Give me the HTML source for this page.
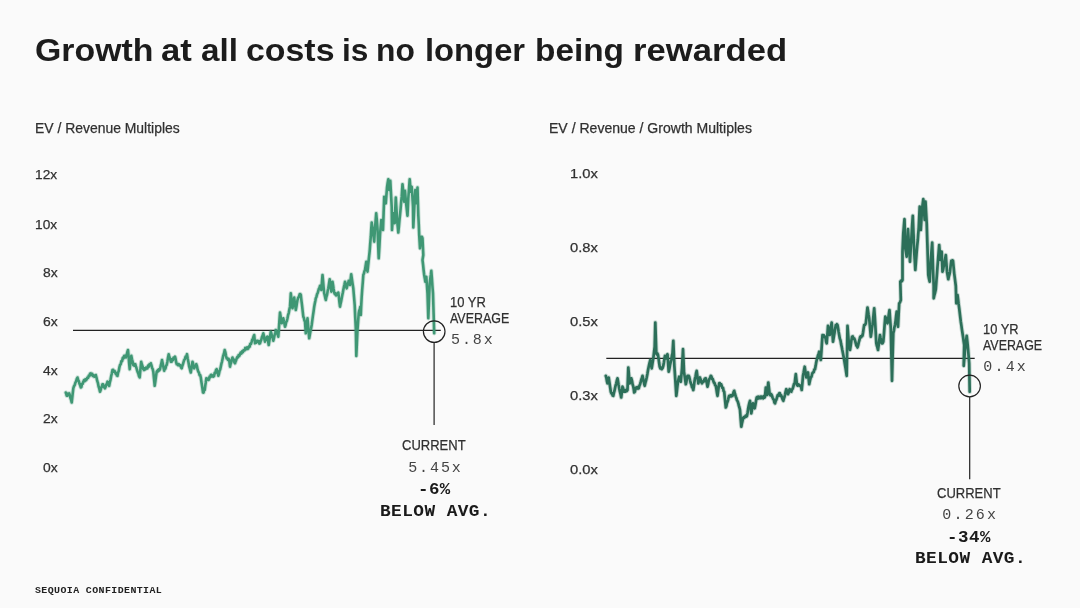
<!DOCTYPE html>
<html lang="en"><head><meta charset="utf-8"><title>Growth at all costs is no longer being rewarded</title>
<style>
html,body{margin:0;padding:0}
body{width:1080px;height:608px;background:#fafafa;position:relative;overflow:hidden;font-family:'Liberation Sans', sans-serif;color:#303030}
svg{position:absolute;left:0;top:0}
.t{position:absolute;transform-origin:0 0;white-space:nowrap;line-height:1;margin:0;padding:0}

</style></head><body>
<svg width="1080" height="608" viewBox="0 0 1080 608" fill="none">
<g stroke="#222" stroke-width="1.2">
<line x1="73" y1="330.3" x2="440.8" y2="330.3"/>
<line x1="606.3" y1="358.3" x2="974.7" y2="358.3"/>
</g>
<g stroke="#3f9774" stroke-linejoin="round" stroke-linecap="round">
<polyline points="65.8,392.5 66.2,393.8 66.7,395.8 67.3,395.8 68.0,393.7 68.6,394.5 69.2,393.3 69.8,395.2 70.5,398.2 71.1,399.9 71.7,402.5 72.5,395.4 73.3,388.3 74.0,386.2 74.7,385.1 75.4,382.6 76.1,381.4 76.8,378.9 77.5,377.5 78.2,380.0 78.8,381.2 79.5,383.8 80.1,385.1 80.8,387.5 81.4,387.0 82.0,383.8 82.7,383.8 83.3,381.7 84.0,380.2 84.7,381.2 85.3,379.3 86.0,380.3 86.7,379.2 87.4,377.6 88.1,377.8 88.8,375.6 89.4,376.2 90.1,373.7 90.8,373.3 91.5,374.8 92.2,373.8 92.8,376.0 93.5,375.2 94.2,376.7 95.0,376.4 95.8,375.0 96.5,377.5 97.2,380.9 97.9,382.9 98.6,386.5 99.3,388.6 100.0,391.7 100.6,390.2 101.2,387.6 101.9,386.4 102.5,384.2 103.1,384.3 103.8,387.1 104.4,386.7 105.0,388.3 105.6,387.0 106.2,384.6 106.9,383.8 107.5,381.7 108.1,382.2 108.6,385.1 109.2,385.8 109.9,382.1 110.5,379.8 111.2,376.0 111.8,373.6 112.5,370.0 113.1,369.8 113.8,371.6 114.4,370.8 115.0,371.7 115.6,373.6 116.2,372.9 116.9,375.6 117.5,375.8 118.1,372.6 118.8,370.7 119.4,367.3 120.0,365.0 120.7,364.3 121.4,361.1 122.1,361.1 122.8,357.9 123.5,358.3 124.2,355.8 125.0,355.9 125.8,357.5 126.5,355.4 127.3,352.2 128.0,350.0 128.6,356.4 129.1,362.8 129.7,369.2 130.2,364.7 130.8,360.3 131.3,355.8 132.0,359.2 132.6,361.6 133.3,365.0 134.0,365.6 134.6,364.0 135.3,364.2 135.9,366.5 136.4,367.8 137.0,370.0 137.7,372.2 138.3,373.5 139.0,376.1 139.7,377.5 140.4,369.6 141.2,361.7 141.9,364.5 142.6,366.4 143.3,369.2 144.0,370.0 144.7,368.3 145.3,369.4 146.0,367.7 146.7,368.3 147.4,368.4 148.1,365.7 148.8,366.7 149.4,364.3 150.1,364.8 150.8,363.3 151.4,365.1 152.1,368.0 152.7,369.1 153.3,371.7 154.0,378.8 154.7,385.8 155.4,381.1 156.0,376.4 156.7,371.7 157.4,370.6 158.0,371.4 158.7,369.4 159.3,370.3 160.0,369.2 160.7,365.9 161.3,363.4 162.0,360.0 162.7,363.3 163.5,367.6 164.2,370.8 164.8,368.4 165.4,368.7 166.1,365.7 166.7,365.0 167.4,361.4 168.0,357.8 168.7,354.2 169.4,357.0 170.1,358.7 170.8,361.7 171.5,361.8 172.2,359.1 172.9,360.1 173.6,357.7 174.3,358.2 175.0,356.7 175.6,358.9 176.1,362.1 176.7,364.2 177.4,363.8 178.0,365.1 178.7,364.1 179.3,365.4 180.0,365.0 180.6,365.4 181.1,367.7 181.7,368.3 182.3,366.0 182.9,364.4 183.6,361.8 184.2,360.0 184.9,359.2 185.6,356.6 186.3,356.6 187.0,354.2 187.7,358.4 188.5,362.5 189.2,366.7 189.7,368.3 190.3,370.9 190.8,372.5 191.4,368.9 191.9,365.3 192.5,361.7 193.1,363.4 193.6,366.6 194.2,368.3 194.9,366.2 195.6,366.3 196.3,364.2 197.0,366.4 197.6,369.5 198.3,371.7 198.9,372.5 199.6,375.2 200.2,375.1 200.8,377.5 201.5,382.5 202.3,387.5 203.0,392.5 203.6,392.6 204.1,390.1 204.7,390.0 205.2,386.1 205.8,382.2 206.3,378.3 207.0,379.4 207.6,378.7 208.3,380.0 208.9,379.7 209.6,376.6 210.2,377.1 210.8,375.0 211.4,374.8 212.1,376.5 212.7,375.7 213.3,376.7 214.0,376.1 214.7,372.9 215.3,373.1 216.0,370.0 216.7,369.2 217.2,371.7 217.8,373.1 218.3,375.8 218.9,374.0 219.6,370.8 220.2,369.4 220.8,366.7 221.4,363.7 221.9,362.1 222.5,359.2 223.2,355.8 224.0,353.4 224.7,350.0 225.4,352.4 226.0,355.8 226.7,358.3 227.3,358.2 227.9,359.8 228.6,358.9 229.2,360.0 229.6,363.4 230.0,366.7 230.6,363.9 231.2,362.5 231.9,359.3 232.5,357.5 233.1,359.9 233.8,359.4 234.4,362.5 235.0,363.3 235.6,361.3 236.1,360.3 236.7,358.3 237.4,356.9 238.0,357.3 238.7,355.0 239.3,356.0 240.0,354.2 240.7,352.6 241.4,353.5 242.1,351.3 242.8,352.3 243.5,350.2 244.2,350.0 244.7,350.3 245.3,347.9 245.8,348.3 246.4,349.2 247.1,347.4 247.7,349.0 248.3,348.3 249.0,346.4 249.7,346.6 250.3,343.7 251.0,343.9 251.7,341.7 252.3,339.5 252.9,338.7 253.6,336.3 254.2,335.0 254.6,339.1 255.0,343.3 255.6,341.8 256.2,342.6 256.9,340.9 257.5,340.8 258.1,342.0 258.8,341.1 259.4,343.6 260.0,343.3 260.7,341.0 261.3,339.8 262.0,336.8 262.6,335.7 263.3,333.3 263.9,335.8 264.4,339.3 265.0,341.7 265.6,339.9 266.2,339.7 266.9,337.0 267.5,336.7 268.1,340.9 268.7,345.0 269.4,340.6 270.1,336.1 270.8,331.7 271.4,333.6 272.1,336.7 272.7,338.1 273.3,340.8 273.9,338.4 274.6,335.1 275.2,333.0 275.8,330.0 276.4,331.4 277.1,333.7 277.7,334.7 278.3,336.7 278.9,328.6 279.4,320.6 280.0,312.5 280.6,316.1 281.1,319.7 281.7,323.3 282.2,322.0 282.8,319.6 283.3,318.3 283.9,321.6 284.4,323.5 285.0,326.7 285.6,325.1 286.2,322.1 286.9,320.8 287.5,318.3 288.1,315.0 288.8,312.8 289.4,309.2 290.0,306.7 290.4,300.0 290.8,293.3 291.4,298.3 291.9,303.3 292.5,308.3 293.1,304.7 293.6,301.1 294.2,297.5 294.7,301.7 295.3,305.8 295.8,310.0 296.4,306.7 296.9,303.3 297.5,300.0 298.2,297.7 299.0,296.6 299.7,294.2 300.2,294.0 300.8,295.0 301.4,300.4 302.1,305.9 302.7,311.3 303.3,316.7 303.9,317.9 304.4,320.4 305.0,321.7 305.4,327.5 305.8,333.3 306.4,328.3 306.9,323.3 307.5,318.3 308.1,325.0 308.6,331.6 309.2,338.3 309.8,335.0 310.4,331.6 311.1,328.3 311.7,325.0 312.3,320.4 312.9,315.9 313.6,311.3 314.2,306.7 314.7,303.9 315.3,301.1 315.8,298.3 316.4,296.9 317.1,294.1 317.7,293.0 318.3,290.8 318.9,288.7 319.4,288.0 320.0,285.8 320.6,287.4 321.3,290.0 321.9,282.5 322.5,275.0 323.1,281.1 323.6,287.2 324.2,293.3 324.7,295.3 325.3,298.1 325.8,300.0 326.4,296.8 327.1,294.6 327.7,290.8 328.3,288.3 329.0,283.8 329.7,279.2 330.2,283.4 330.8,287.5 331.3,291.7 331.9,286.7 332.5,281.7 333.1,285.3 333.6,288.9 334.2,292.5 334.8,294.1 335.4,293.1 336.1,295.4 336.7,295.0 337.2,293.5 337.8,294.1 338.3,292.5 338.9,297.2 339.4,302.0 340.0,306.7 340.6,303.6 341.1,301.5 341.7,298.3 342.2,295.5 342.8,292.8 343.3,290.0 343.9,286.9 344.4,284.8 345.0,281.7 345.6,283.5 346.1,286.4 346.7,288.3 347.4,285.4 348.0,283.7 348.7,280.8 349.4,282.6 350.0,285.0 350.6,279.6 351.2,274.2 351.9,278.9 352.6,283.6 353.3,288.3 354.0,296.6 354.7,305.0 355.2,316.6 355.8,328.3 356.3,356.0 356.9,343.0 357.5,330.0 358.1,321.6 358.7,313.3 359.2,310.8 359.8,309.2 360.3,306.7 360.8,315.0 361.2,305.9 361.7,296.7 362.2,289.5 362.8,282.2 363.3,275.0 363.9,273.6 364.4,271.3 365.0,270.0 365.6,265.9 366.3,261.7 366.9,266.7 367.5,271.7 368.1,265.9 368.7,260.0 369.2,255.4 369.7,250.8 370.2,243.8 370.8,236.7 371.2,229.6 371.7,222.5 372.4,227.1 373.0,231.7 373.6,236.7 374.2,241.7 374.6,235.0 375.0,228.3 375.6,220.8 376.2,213.3 376.9,220.8 377.5,228.3 378.1,243.3 378.7,258.3 379.4,246.7 380.0,235.0 380.6,227.5 381.3,220.0 381.9,223.3 382.4,226.7 383.0,230.0 383.6,213.3 384.2,196.7 384.7,198.6 385.3,201.6 385.8,203.3 386.4,195.4 387.0,187.5 387.6,183.3 388.3,179.2 388.8,184.6 389.2,190.0 389.8,185.4 390.3,180.8 391.0,193.8 391.7,206.7 392.0,230.0 392.6,221.7 393.3,213.3 394.0,218.3 394.7,223.3 395.2,210.4 395.8,197.5 396.4,207.9 397.0,218.3 397.6,225.4 398.3,232.5 398.9,226.7 399.4,220.8 400.0,215.0 400.6,208.9 401.1,202.8 401.7,196.7 402.1,190.4 402.5,184.2 403.1,190.0 403.6,195.9 404.2,201.7 404.6,196.2 405.0,190.8 405.6,197.9 406.3,205.0 406.9,210.4 407.5,215.8 407.9,207.1 408.3,198.3 409.0,188.8 409.7,179.2 410.2,185.4 410.8,191.7 411.2,189.2 411.7,186.7 412.4,196.7 413.0,206.7 413.3,227.5 414.0,213.8 414.7,200.0 415.3,190.0 415.8,196.7 416.3,203.3 416.9,195.4 417.5,187.5 417.9,201.2 418.3,215.0 418.8,225.0 419.2,235.0 419.6,241.7 420.0,248.3 420.6,242.5 421.3,236.7 421.9,236.8 422.5,238.3 422.9,246.7 423.3,255.0 422.9,257.5 422.5,260.0 423.1,265.0 423.6,270.0 424.2,275.0 424.8,278.4 425.3,281.7 425.8,279.2 426.3,276.7 426.9,285.0 427.5,293.3 427.9,305.8 428.3,318.3 429.0,300.8 429.7,283.3 430.2,279.1 430.8,275.0 431.3,270.8 431.9,278.3 432.4,285.8 433.0,293.3 433.6,313.3 434.2,333.3" stroke-width="4.4" opacity="0.25"/>
<polyline points="65.8,392.5 66.2,393.8 66.7,395.8 67.3,395.8 68.0,393.7 68.6,394.5 69.2,393.3 69.8,395.2 70.5,398.2 71.1,399.9 71.7,402.5 72.5,395.4 73.3,388.3 74.0,386.2 74.7,385.1 75.4,382.6 76.1,381.4 76.8,378.9 77.5,377.5 78.2,380.0 78.8,381.2 79.5,383.8 80.1,385.1 80.8,387.5 81.4,387.0 82.0,383.8 82.7,383.8 83.3,381.7 84.0,380.2 84.7,381.2 85.3,379.3 86.0,380.3 86.7,379.2 87.4,377.6 88.1,377.8 88.8,375.6 89.4,376.2 90.1,373.7 90.8,373.3 91.5,374.8 92.2,373.8 92.8,376.0 93.5,375.2 94.2,376.7 95.0,376.4 95.8,375.0 96.5,377.5 97.2,380.9 97.9,382.9 98.6,386.5 99.3,388.6 100.0,391.7 100.6,390.2 101.2,387.6 101.9,386.4 102.5,384.2 103.1,384.3 103.8,387.1 104.4,386.7 105.0,388.3 105.6,387.0 106.2,384.6 106.9,383.8 107.5,381.7 108.1,382.2 108.6,385.1 109.2,385.8 109.9,382.1 110.5,379.8 111.2,376.0 111.8,373.6 112.5,370.0 113.1,369.8 113.8,371.6 114.4,370.8 115.0,371.7 115.6,373.6 116.2,372.9 116.9,375.6 117.5,375.8 118.1,372.6 118.8,370.7 119.4,367.3 120.0,365.0 120.7,364.3 121.4,361.1 122.1,361.1 122.8,357.9 123.5,358.3 124.2,355.8 125.0,355.9 125.8,357.5 126.5,355.4 127.3,352.2 128.0,350.0 128.6,356.4 129.1,362.8 129.7,369.2 130.2,364.7 130.8,360.3 131.3,355.8 132.0,359.2 132.6,361.6 133.3,365.0 134.0,365.6 134.6,364.0 135.3,364.2 135.9,366.5 136.4,367.8 137.0,370.0 137.7,372.2 138.3,373.5 139.0,376.1 139.7,377.5 140.4,369.6 141.2,361.7 141.9,364.5 142.6,366.4 143.3,369.2 144.0,370.0 144.7,368.3 145.3,369.4 146.0,367.7 146.7,368.3 147.4,368.4 148.1,365.7 148.8,366.7 149.4,364.3 150.1,364.8 150.8,363.3 151.4,365.1 152.1,368.0 152.7,369.1 153.3,371.7 154.0,378.8 154.7,385.8 155.4,381.1 156.0,376.4 156.7,371.7 157.4,370.6 158.0,371.4 158.7,369.4 159.3,370.3 160.0,369.2 160.7,365.9 161.3,363.4 162.0,360.0 162.7,363.3 163.5,367.6 164.2,370.8 164.8,368.4 165.4,368.7 166.1,365.7 166.7,365.0 167.4,361.4 168.0,357.8 168.7,354.2 169.4,357.0 170.1,358.7 170.8,361.7 171.5,361.8 172.2,359.1 172.9,360.1 173.6,357.7 174.3,358.2 175.0,356.7 175.6,358.9 176.1,362.1 176.7,364.2 177.4,363.8 178.0,365.1 178.7,364.1 179.3,365.4 180.0,365.0 180.6,365.4 181.1,367.7 181.7,368.3 182.3,366.0 182.9,364.4 183.6,361.8 184.2,360.0 184.9,359.2 185.6,356.6 186.3,356.6 187.0,354.2 187.7,358.4 188.5,362.5 189.2,366.7 189.7,368.3 190.3,370.9 190.8,372.5 191.4,368.9 191.9,365.3 192.5,361.7 193.1,363.4 193.6,366.6 194.2,368.3 194.9,366.2 195.6,366.3 196.3,364.2 197.0,366.4 197.6,369.5 198.3,371.7 198.9,372.5 199.6,375.2 200.2,375.1 200.8,377.5 201.5,382.5 202.3,387.5 203.0,392.5 203.6,392.6 204.1,390.1 204.7,390.0 205.2,386.1 205.8,382.2 206.3,378.3 207.0,379.4 207.6,378.7 208.3,380.0 208.9,379.7 209.6,376.6 210.2,377.1 210.8,375.0 211.4,374.8 212.1,376.5 212.7,375.7 213.3,376.7 214.0,376.1 214.7,372.9 215.3,373.1 216.0,370.0 216.7,369.2 217.2,371.7 217.8,373.1 218.3,375.8 218.9,374.0 219.6,370.8 220.2,369.4 220.8,366.7 221.4,363.7 221.9,362.1 222.5,359.2 223.2,355.8 224.0,353.4 224.7,350.0 225.4,352.4 226.0,355.8 226.7,358.3 227.3,358.2 227.9,359.8 228.6,358.9 229.2,360.0 229.6,363.4 230.0,366.7 230.6,363.9 231.2,362.5 231.9,359.3 232.5,357.5 233.1,359.9 233.8,359.4 234.4,362.5 235.0,363.3 235.6,361.3 236.1,360.3 236.7,358.3 237.4,356.9 238.0,357.3 238.7,355.0 239.3,356.0 240.0,354.2 240.7,352.6 241.4,353.5 242.1,351.3 242.8,352.3 243.5,350.2 244.2,350.0 244.7,350.3 245.3,347.9 245.8,348.3 246.4,349.2 247.1,347.4 247.7,349.0 248.3,348.3 249.0,346.4 249.7,346.6 250.3,343.7 251.0,343.9 251.7,341.7 252.3,339.5 252.9,338.7 253.6,336.3 254.2,335.0 254.6,339.1 255.0,343.3 255.6,341.8 256.2,342.6 256.9,340.9 257.5,340.8 258.1,342.0 258.8,341.1 259.4,343.6 260.0,343.3 260.7,341.0 261.3,339.8 262.0,336.8 262.6,335.7 263.3,333.3 263.9,335.8 264.4,339.3 265.0,341.7 265.6,339.9 266.2,339.7 266.9,337.0 267.5,336.7 268.1,340.9 268.7,345.0 269.4,340.6 270.1,336.1 270.8,331.7 271.4,333.6 272.1,336.7 272.7,338.1 273.3,340.8 273.9,338.4 274.6,335.1 275.2,333.0 275.8,330.0 276.4,331.4 277.1,333.7 277.7,334.7 278.3,336.7 278.9,328.6 279.4,320.6 280.0,312.5 280.6,316.1 281.1,319.7 281.7,323.3 282.2,322.0 282.8,319.6 283.3,318.3 283.9,321.6 284.4,323.5 285.0,326.7 285.6,325.1 286.2,322.1 286.9,320.8 287.5,318.3 288.1,315.0 288.8,312.8 289.4,309.2 290.0,306.7 290.4,300.0 290.8,293.3 291.4,298.3 291.9,303.3 292.5,308.3 293.1,304.7 293.6,301.1 294.2,297.5 294.7,301.7 295.3,305.8 295.8,310.0 296.4,306.7 296.9,303.3 297.5,300.0 298.2,297.7 299.0,296.6 299.7,294.2 300.2,294.0 300.8,295.0 301.4,300.4 302.1,305.9 302.7,311.3 303.3,316.7 303.9,317.9 304.4,320.4 305.0,321.7 305.4,327.5 305.8,333.3 306.4,328.3 306.9,323.3 307.5,318.3 308.1,325.0 308.6,331.6 309.2,338.3 309.8,335.0 310.4,331.6 311.1,328.3 311.7,325.0 312.3,320.4 312.9,315.9 313.6,311.3 314.2,306.7 314.7,303.9 315.3,301.1 315.8,298.3 316.4,296.9 317.1,294.1 317.7,293.0 318.3,290.8 318.9,288.7 319.4,288.0 320.0,285.8 320.6,287.4 321.3,290.0 321.9,282.5 322.5,275.0 323.1,281.1 323.6,287.2 324.2,293.3 324.7,295.3 325.3,298.1 325.8,300.0 326.4,296.8 327.1,294.6 327.7,290.8 328.3,288.3 329.0,283.8 329.7,279.2 330.2,283.4 330.8,287.5 331.3,291.7 331.9,286.7 332.5,281.7 333.1,285.3 333.6,288.9 334.2,292.5 334.8,294.1 335.4,293.1 336.1,295.4 336.7,295.0 337.2,293.5 337.8,294.1 338.3,292.5 338.9,297.2 339.4,302.0 340.0,306.7 340.6,303.6 341.1,301.5 341.7,298.3 342.2,295.5 342.8,292.8 343.3,290.0 343.9,286.9 344.4,284.8 345.0,281.7 345.6,283.5 346.1,286.4 346.7,288.3 347.4,285.4 348.0,283.7 348.7,280.8 349.4,282.6 350.0,285.0 350.6,279.6 351.2,274.2 351.9,278.9 352.6,283.6 353.3,288.3 354.0,296.6 354.7,305.0 355.2,316.6 355.8,328.3 356.3,356.0 356.9,343.0 357.5,330.0 358.1,321.6 358.7,313.3 359.2,310.8 359.8,309.2 360.3,306.7 360.8,315.0 361.2,305.9 361.7,296.7 362.2,289.5 362.8,282.2 363.3,275.0 363.9,273.6 364.4,271.3 365.0,270.0 365.6,265.9 366.3,261.7 366.9,266.7 367.5,271.7 368.1,265.9 368.7,260.0 369.2,255.4 369.7,250.8 370.2,243.8 370.8,236.7 371.2,229.6 371.7,222.5 372.4,227.1 373.0,231.7 373.6,236.7 374.2,241.7 374.6,235.0 375.0,228.3 375.6,220.8 376.2,213.3 376.9,220.8 377.5,228.3 378.1,243.3 378.7,258.3 379.4,246.7 380.0,235.0 380.6,227.5 381.3,220.0 381.9,223.3 382.4,226.7 383.0,230.0 383.6,213.3 384.2,196.7 384.7,198.6 385.3,201.6 385.8,203.3 386.4,195.4 387.0,187.5 387.6,183.3 388.3,179.2 388.8,184.6 389.2,190.0 389.8,185.4 390.3,180.8 391.0,193.8 391.7,206.7 392.0,230.0 392.6,221.7 393.3,213.3 394.0,218.3 394.7,223.3 395.2,210.4 395.8,197.5 396.4,207.9 397.0,218.3 397.6,225.4 398.3,232.5 398.9,226.7 399.4,220.8 400.0,215.0 400.6,208.9 401.1,202.8 401.7,196.7 402.1,190.4 402.5,184.2 403.1,190.0 403.6,195.9 404.2,201.7 404.6,196.2 405.0,190.8 405.6,197.9 406.3,205.0 406.9,210.4 407.5,215.8 407.9,207.1 408.3,198.3 409.0,188.8 409.7,179.2 410.2,185.4 410.8,191.7 411.2,189.2 411.7,186.7 412.4,196.7 413.0,206.7 413.3,227.5 414.0,213.8 414.7,200.0 415.3,190.0 415.8,196.7 416.3,203.3 416.9,195.4 417.5,187.5 417.9,201.2 418.3,215.0 418.8,225.0 419.2,235.0 419.6,241.7 420.0,248.3 420.6,242.5 421.3,236.7 421.9,236.8 422.5,238.3 422.9,246.7 423.3,255.0 422.9,257.5 422.5,260.0 423.1,265.0 423.6,270.0 424.2,275.0 424.8,278.4 425.3,281.7 425.8,279.2 426.3,276.7 426.9,285.0 427.5,293.3 427.9,305.8 428.3,318.3 429.0,300.8 429.7,283.3 430.2,279.1 430.8,275.0 431.3,270.8 431.9,278.3 432.4,285.8 433.0,293.3 433.6,313.3 434.2,333.3" stroke-width="2.6"/>
</g>
<g stroke="#2c6f59" stroke-linejoin="round" stroke-linecap="round">
<polyline points="605.8,375.8 606.4,378.0 606.9,381.1 607.5,383.3 608.1,380.0 608.7,377.5 609.4,382.2 610.1,387.0 610.8,391.7 611.4,393.4 612.0,393.2 612.7,395.5 613.3,395.8 613.9,393.0 614.4,391.2 615.0,388.3 615.6,385.5 616.2,383.6 616.9,380.4 617.5,378.3 618.1,381.6 618.6,385.0 619.2,388.3 619.9,391.7 620.5,394.0 621.2,397.5 621.9,392.1 622.5,386.7 623.1,388.0 623.6,390.4 624.2,391.7 624.9,390.4 625.5,391.5 626.2,389.8 626.8,391.0 627.5,390.0 628.3,367.5 629.0,375.4 629.7,383.3 630.5,381.1 631.3,378.3 632.0,380.8 632.6,384.4 633.3,386.7 633.8,389.6 634.2,392.5 634.9,391.6 635.6,388.3 636.3,387.5 636.9,388.4 637.5,387.1 638.1,388.6 638.7,388.3 639.4,385.8 640.1,384.2 640.8,381.7 641.4,379.3 641.9,378.1 642.5,375.8 643.2,378.8 644.0,382.9 644.7,385.8 645.4,382.7 646.0,380.6 646.7,377.5 647.4,373.9 648.0,370.3 648.7,366.7 649.5,363.0 650.3,360.0 651.0,364.1 651.7,368.3 652.5,363.3 653.3,358.3 654.0,352.5 654.7,346.7 655.3,322.5 655.8,337.9 656.3,353.3 656.9,354.5 657.4,353.4 658.0,355.0 658.6,358.9 659.1,362.8 659.7,366.7 660.4,368.4 661.0,367.8 661.7,369.2 662.5,368.2 663.3,365.8 663.9,362.5 664.4,359.1 665.0,355.8 665.6,356.2 666.3,358.3 666.9,356.6 667.5,354.2 668.1,362.9 668.7,371.7 669.4,368.7 670.1,364.6 670.8,361.7 671.4,359.3 671.9,355.7 672.5,353.3 673.3,340.8 673.8,352.9 674.3,365.0 674.8,372.5 675.3,380.0 675.8,387.9 676.3,395.8 676.9,391.1 677.4,386.4 678.0,381.7 678.6,378.9 679.2,376.7 680.0,379.6 680.8,381.7 681.4,375.0 682.0,368.3 682.5,358.8 683.0,349.2 683.5,360.4 684.0,371.7 684.6,375.9 685.2,380.0 685.8,384.2 686.4,381.8 686.9,378.3 687.5,375.8 688.1,376.8 688.6,375.8 689.2,376.7 690.0,380.3 690.8,383.3 691.4,384.7 692.0,387.1 692.7,388.0 693.3,390.0 693.9,386.1 694.4,382.2 695.0,378.3 695.6,376.3 696.1,373.0 696.7,370.8 697.5,377.1 698.3,383.3 698.9,381.0 699.4,379.9 700.0,377.5 700.0,378.3 700.7,379.5 701.3,382.1 702.0,383.3 702.7,381.6 703.5,381.8 704.2,380.0 705.0,378.5 705.8,378.3 706.4,381.6 706.9,383.4 707.5,386.7 708.1,384.5 708.6,381.4 709.2,379.2 710.0,378.1 710.8,375.8 711.4,376.4 712.0,379.0 712.7,378.8 713.3,380.8 713.9,382.7 714.5,382.8 715.2,385.3 715.8,385.8 716.4,389.1 716.9,392.5 717.5,395.8 718.1,391.6 718.6,387.5 719.2,383.3 719.8,383.2 720.5,385.4 721.1,384.3 721.7,385.8 722.3,387.8 723.0,387.8 723.6,391.1 724.2,391.7 725.0,399.6 725.8,407.5 726.4,406.0 726.9,403.3 727.5,401.7 728.1,400.1 728.6,397.5 729.2,395.8 729.9,396.6 730.5,395.3 731.2,396.3 731.8,395.2 732.5,395.8 733.1,394.4 733.6,392.1 734.2,390.8 735.0,394.0 735.8,396.7 736.4,398.1 737.0,400.3 737.7,401.4 738.3,403.3 738.9,405.9 739.4,407.5 740.0,410.0 740.6,418.4 741.3,426.7 741.9,423.5 742.4,421.4 743.0,418.3 743.7,417.1 744.3,417.9 745.0,416.7 745.7,415.7 746.3,416.7 747.0,415.8 747.6,412.5 748.1,409.1 748.7,405.8 749.4,402.9 750.0,400.8 750.6,407.1 751.3,413.3 751.9,410.0 752.4,406.6 753.0,403.3 753.6,404.6 754.1,406.9 754.7,408.3 755.4,404.7 756.0,401.1 756.7,397.5 757.3,397.0 758.0,398.5 758.6,396.7 759.2,397.5 759.9,398.1 760.5,396.7 761.2,398.0 761.8,396.7 762.5,397.5 763.1,398.3 763.8,396.2 764.4,397.7 765.0,396.7 765.8,387.5 766.4,391.2 767.0,395.0 767.6,388.8 768.3,382.5 769.0,388.4 769.7,394.2 770.4,395.4 771.0,394.0 771.7,395.0 772.5,397.5 773.3,399.2 773.9,399.9 774.4,402.5 775.0,403.3 775.7,400.9 776.3,399.9 777.0,397.5 777.7,395.2 778.5,395.6 779.2,393.3 779.8,393.2 780.5,395.9 781.1,395.2 781.7,396.7 782.5,399.1 783.3,400.8 783.9,398.5 784.4,397.2 785.0,395.0 785.6,391.8 786.3,389.2 786.9,391.2 787.4,392.2 788.0,394.2 788.6,393.0 789.1,390.4 789.7,389.2 790.5,391.2 791.3,391.7 792.0,389.5 792.6,388.9 793.3,386.7 794.0,384.0 794.7,383.3 795.2,378.8 795.8,374.2 796.4,379.6 797.0,385.0 797.7,385.6 798.5,384.4 799.2,385.0 800.0,386.0 800.8,385.8 801.2,387.5 801.7,390.0 802.4,382.9 803.0,375.8 803.6,372.8 804.1,369.7 804.7,366.7 805.5,372.1 806.3,377.5 806.9,376.3 807.4,373.9 808.0,372.5 808.6,378.4 809.2,384.2 810.0,380.4 810.8,377.5 811.5,376.7 812.3,373.3 813.0,372.5 813.7,372.1 814.3,369.7 815.0,369.2 815.6,366.1 816.1,363.1 816.7,360.0 817.3,358.4 818.0,355.4 818.6,354.1 819.2,351.7 820.0,355.9 820.8,360.0 821.4,351.7 821.9,343.3 822.5,335.0 823.1,336.0 823.8,335.3 824.4,336.9 825.0,336.7 825.6,338.4 826.1,341.6 826.7,343.3 827.4,334.6 828.0,325.8 828.6,328.9 829.1,331.9 829.7,335.0 830.4,330.8 831.0,326.7 831.7,322.5 832.4,332.1 833.0,341.7 833.7,337.5 834.4,333.4 835.1,329.2 835.8,325.0 836.4,325.8 836.9,324.2 837.5,325.0 838.1,328.3 838.6,331.7 839.2,335.0 839.8,338.4 840.5,340.4 841.1,344.1 841.7,346.7 842.3,350.0 843.0,353.4 843.6,356.7 844.2,360.0 844.8,363.9 845.5,367.9 846.1,371.9 846.7,375.8 847.5,325.8 848.1,333.8 848.7,341.7 849.4,345.9 850.0,350.0 850.7,345.6 851.3,341.1 852.0,336.7 852.7,336.4 853.5,338.7 854.2,338.3 855.0,340.4 855.8,343.3 856.4,345.7 856.9,345.3 857.5,347.5 858.1,345.4 858.8,342.1 859.4,340.3 860.0,337.5 860.6,336.4 861.2,337.2 861.9,335.7 862.5,335.8 863.1,332.2 863.6,328.6 864.2,325.0 865.0,324.9 865.8,323.3 866.4,318.0 866.9,312.8 867.5,307.5 868.1,311.1 868.6,314.7 869.2,318.3 870.0,327.5 870.8,336.7 871.4,332.8 871.9,328.9 872.5,325.0 873.1,319.4 873.6,313.9 874.2,308.3 874.8,316.6 875.3,325.0 875.8,334.1 876.3,343.3 876.9,345.9 877.4,347.4 878.0,350.0 878.7,345.0 879.3,340.0 880.0,335.0 880.6,338.1 881.1,340.1 881.7,343.3 882.5,343.3 883.3,341.7 884.0,333.4 884.6,325.0 885.3,316.7 886.0,318.5 886.8,321.5 887.5,323.3 888.2,318.9 888.8,314.4 889.5,310.0 890.1,319.1 890.8,328.3 891.4,354.6 892.0,380.8 892.6,357.1 893.3,333.3 893.9,330.8 894.4,327.4 895.0,325.0 895.6,320.6 896.1,316.1 896.7,311.7 897.4,319.2 898.0,326.7 898.6,315.0 899.2,303.3 900.0,302.4 900.8,300.0 900.3,281.7 901.0,280.6 901.8,281.2 902.5,280.0 902.5,251.7 903.3,233.3 903.9,226.2 904.5,219.2 905.3,248.3 906.0,252.5 906.7,256.7 907.4,242.9 908.0,229.2 908.6,238.8 909.2,248.3 910.0,261.7 910.6,250.8 911.3,240.0 912.0,227.9 912.8,215.8 913.5,233.8 914.2,251.7 914.8,260.9 915.3,270.0 916.0,260.9 916.7,251.7 917.2,245.8 917.8,240.0 918.2,234.2 918.7,228.3 919.2,217.5 919.7,206.7 920.2,218.3 920.8,230.0 921.4,220.0 922.0,210.0 922.6,204.6 923.3,199.2 924.0,209.6 924.7,220.0 925.5,201.7 926.1,212.5 926.7,223.3 927.5,248.3 928.3,275.0 929.0,278.7 929.7,281.7 930.2,270.9 930.8,260.0 931.5,251.2 932.2,242.5 933.0,268.3 933.7,286.0 933.7,298.3 934.4,295.0 935.1,292.6 935.8,289.2 936.4,281.2 937.0,273.3 937.5,266.6 938.0,260.0 938.6,252.5 939.2,245.0 939.8,252.5 940.3,260.0 941.0,255.8 941.7,251.7 942.5,271.7 943.1,269.8 943.6,266.8 944.2,265.0 945.0,260.0 945.8,255.0 946.4,263.4 947.0,271.7 947.6,275.4 948.3,279.2 948.9,276.3 949.4,274.7 950.0,271.7 950.6,266.2 951.3,260.8 951.9,261.4 952.4,260.3 953.0,260.8 953.6,267.1 954.2,273.3 955.0,279.6 955.8,286.0 956.3,303.3 956.9,299.1 957.5,295.0 958.1,299.4 958.6,303.9 959.2,308.3 960.0,315.0 960.8,321.7 961.4,325.6 961.9,329.4 962.5,333.3 963.1,337.2 963.6,341.1 964.2,345.0 963.7,365.8 964.4,357.9 965.0,350.0 965.6,345.3 966.1,340.5 966.7,335.8 967.4,342.1 968.0,348.3 968.6,355.8 969.2,363.3 969.7,391.7" stroke-width="4.5" opacity="0.25"/>
<polyline points="605.8,375.8 606.4,378.0 606.9,381.1 607.5,383.3 608.1,380.0 608.7,377.5 609.4,382.2 610.1,387.0 610.8,391.7 611.4,393.4 612.0,393.2 612.7,395.5 613.3,395.8 613.9,393.0 614.4,391.2 615.0,388.3 615.6,385.5 616.2,383.6 616.9,380.4 617.5,378.3 618.1,381.6 618.6,385.0 619.2,388.3 619.9,391.7 620.5,394.0 621.2,397.5 621.9,392.1 622.5,386.7 623.1,388.0 623.6,390.4 624.2,391.7 624.9,390.4 625.5,391.5 626.2,389.8 626.8,391.0 627.5,390.0 628.3,367.5 629.0,375.4 629.7,383.3 630.5,381.1 631.3,378.3 632.0,380.8 632.6,384.4 633.3,386.7 633.8,389.6 634.2,392.5 634.9,391.6 635.6,388.3 636.3,387.5 636.9,388.4 637.5,387.1 638.1,388.6 638.7,388.3 639.4,385.8 640.1,384.2 640.8,381.7 641.4,379.3 641.9,378.1 642.5,375.8 643.2,378.8 644.0,382.9 644.7,385.8 645.4,382.7 646.0,380.6 646.7,377.5 647.4,373.9 648.0,370.3 648.7,366.7 649.5,363.0 650.3,360.0 651.0,364.1 651.7,368.3 652.5,363.3 653.3,358.3 654.0,352.5 654.7,346.7 655.3,322.5 655.8,337.9 656.3,353.3 656.9,354.5 657.4,353.4 658.0,355.0 658.6,358.9 659.1,362.8 659.7,366.7 660.4,368.4 661.0,367.8 661.7,369.2 662.5,368.2 663.3,365.8 663.9,362.5 664.4,359.1 665.0,355.8 665.6,356.2 666.3,358.3 666.9,356.6 667.5,354.2 668.1,362.9 668.7,371.7 669.4,368.7 670.1,364.6 670.8,361.7 671.4,359.3 671.9,355.7 672.5,353.3 673.3,340.8 673.8,352.9 674.3,365.0 674.8,372.5 675.3,380.0 675.8,387.9 676.3,395.8 676.9,391.1 677.4,386.4 678.0,381.7 678.6,378.9 679.2,376.7 680.0,379.6 680.8,381.7 681.4,375.0 682.0,368.3 682.5,358.8 683.0,349.2 683.5,360.4 684.0,371.7 684.6,375.9 685.2,380.0 685.8,384.2 686.4,381.8 686.9,378.3 687.5,375.8 688.1,376.8 688.6,375.8 689.2,376.7 690.0,380.3 690.8,383.3 691.4,384.7 692.0,387.1 692.7,388.0 693.3,390.0 693.9,386.1 694.4,382.2 695.0,378.3 695.6,376.3 696.1,373.0 696.7,370.8 697.5,377.1 698.3,383.3 698.9,381.0 699.4,379.9 700.0,377.5 700.0,378.3 700.7,379.5 701.3,382.1 702.0,383.3 702.7,381.6 703.5,381.8 704.2,380.0 705.0,378.5 705.8,378.3 706.4,381.6 706.9,383.4 707.5,386.7 708.1,384.5 708.6,381.4 709.2,379.2 710.0,378.1 710.8,375.8 711.4,376.4 712.0,379.0 712.7,378.8 713.3,380.8 713.9,382.7 714.5,382.8 715.2,385.3 715.8,385.8 716.4,389.1 716.9,392.5 717.5,395.8 718.1,391.6 718.6,387.5 719.2,383.3 719.8,383.2 720.5,385.4 721.1,384.3 721.7,385.8 722.3,387.8 723.0,387.8 723.6,391.1 724.2,391.7 725.0,399.6 725.8,407.5 726.4,406.0 726.9,403.3 727.5,401.7 728.1,400.1 728.6,397.5 729.2,395.8 729.9,396.6 730.5,395.3 731.2,396.3 731.8,395.2 732.5,395.8 733.1,394.4 733.6,392.1 734.2,390.8 735.0,394.0 735.8,396.7 736.4,398.1 737.0,400.3 737.7,401.4 738.3,403.3 738.9,405.9 739.4,407.5 740.0,410.0 740.6,418.4 741.3,426.7 741.9,423.5 742.4,421.4 743.0,418.3 743.7,417.1 744.3,417.9 745.0,416.7 745.7,415.7 746.3,416.7 747.0,415.8 747.6,412.5 748.1,409.1 748.7,405.8 749.4,402.9 750.0,400.8 750.6,407.1 751.3,413.3 751.9,410.0 752.4,406.6 753.0,403.3 753.6,404.6 754.1,406.9 754.7,408.3 755.4,404.7 756.0,401.1 756.7,397.5 757.3,397.0 758.0,398.5 758.6,396.7 759.2,397.5 759.9,398.1 760.5,396.7 761.2,398.0 761.8,396.7 762.5,397.5 763.1,398.3 763.8,396.2 764.4,397.7 765.0,396.7 765.8,387.5 766.4,391.2 767.0,395.0 767.6,388.8 768.3,382.5 769.0,388.4 769.7,394.2 770.4,395.4 771.0,394.0 771.7,395.0 772.5,397.5 773.3,399.2 773.9,399.9 774.4,402.5 775.0,403.3 775.7,400.9 776.3,399.9 777.0,397.5 777.7,395.2 778.5,395.6 779.2,393.3 779.8,393.2 780.5,395.9 781.1,395.2 781.7,396.7 782.5,399.1 783.3,400.8 783.9,398.5 784.4,397.2 785.0,395.0 785.6,391.8 786.3,389.2 786.9,391.2 787.4,392.2 788.0,394.2 788.6,393.0 789.1,390.4 789.7,389.2 790.5,391.2 791.3,391.7 792.0,389.5 792.6,388.9 793.3,386.7 794.0,384.0 794.7,383.3 795.2,378.8 795.8,374.2 796.4,379.6 797.0,385.0 797.7,385.6 798.5,384.4 799.2,385.0 800.0,386.0 800.8,385.8 801.2,387.5 801.7,390.0 802.4,382.9 803.0,375.8 803.6,372.8 804.1,369.7 804.7,366.7 805.5,372.1 806.3,377.5 806.9,376.3 807.4,373.9 808.0,372.5 808.6,378.4 809.2,384.2 810.0,380.4 810.8,377.5 811.5,376.7 812.3,373.3 813.0,372.5 813.7,372.1 814.3,369.7 815.0,369.2 815.6,366.1 816.1,363.1 816.7,360.0 817.3,358.4 818.0,355.4 818.6,354.1 819.2,351.7 820.0,355.9 820.8,360.0 821.4,351.7 821.9,343.3 822.5,335.0 823.1,336.0 823.8,335.3 824.4,336.9 825.0,336.7 825.6,338.4 826.1,341.6 826.7,343.3 827.4,334.6 828.0,325.8 828.6,328.9 829.1,331.9 829.7,335.0 830.4,330.8 831.0,326.7 831.7,322.5 832.4,332.1 833.0,341.7 833.7,337.5 834.4,333.4 835.1,329.2 835.8,325.0 836.4,325.8 836.9,324.2 837.5,325.0 838.1,328.3 838.6,331.7 839.2,335.0 839.8,338.4 840.5,340.4 841.1,344.1 841.7,346.7 842.3,350.0 843.0,353.4 843.6,356.7 844.2,360.0 844.8,363.9 845.5,367.9 846.1,371.9 846.7,375.8 847.5,325.8 848.1,333.8 848.7,341.7 849.4,345.9 850.0,350.0 850.7,345.6 851.3,341.1 852.0,336.7 852.7,336.4 853.5,338.7 854.2,338.3 855.0,340.4 855.8,343.3 856.4,345.7 856.9,345.3 857.5,347.5 858.1,345.4 858.8,342.1 859.4,340.3 860.0,337.5 860.6,336.4 861.2,337.2 861.9,335.7 862.5,335.8 863.1,332.2 863.6,328.6 864.2,325.0 865.0,324.9 865.8,323.3 866.4,318.0 866.9,312.8 867.5,307.5 868.1,311.1 868.6,314.7 869.2,318.3 870.0,327.5 870.8,336.7 871.4,332.8 871.9,328.9 872.5,325.0 873.1,319.4 873.6,313.9 874.2,308.3 874.8,316.6 875.3,325.0 875.8,334.1 876.3,343.3 876.9,345.9 877.4,347.4 878.0,350.0 878.7,345.0 879.3,340.0 880.0,335.0 880.6,338.1 881.1,340.1 881.7,343.3 882.5,343.3 883.3,341.7 884.0,333.4 884.6,325.0 885.3,316.7 886.0,318.5 886.8,321.5 887.5,323.3 888.2,318.9 888.8,314.4 889.5,310.0 890.1,319.1 890.8,328.3 891.4,354.6 892.0,380.8 892.6,357.1 893.3,333.3 893.9,330.8 894.4,327.4 895.0,325.0 895.6,320.6 896.1,316.1 896.7,311.7 897.4,319.2 898.0,326.7 898.6,315.0 899.2,303.3 900.0,302.4 900.8,300.0 900.3,281.7 901.0,280.6 901.8,281.2 902.5,280.0 902.5,251.7 903.3,233.3 903.9,226.2 904.5,219.2 905.3,248.3 906.0,252.5 906.7,256.7 907.4,242.9 908.0,229.2 908.6,238.8 909.2,248.3 910.0,261.7 910.6,250.8 911.3,240.0 912.0,227.9 912.8,215.8 913.5,233.8 914.2,251.7 914.8,260.9 915.3,270.0 916.0,260.9 916.7,251.7 917.2,245.8 917.8,240.0 918.2,234.2 918.7,228.3 919.2,217.5 919.7,206.7 920.2,218.3 920.8,230.0 921.4,220.0 922.0,210.0 922.6,204.6 923.3,199.2 924.0,209.6 924.7,220.0 925.5,201.7 926.1,212.5 926.7,223.3 927.5,248.3 928.3,275.0 929.0,278.7 929.7,281.7 930.2,270.9 930.8,260.0 931.5,251.2 932.2,242.5 933.0,268.3 933.7,286.0 933.7,298.3 934.4,295.0 935.1,292.6 935.8,289.2 936.4,281.2 937.0,273.3 937.5,266.6 938.0,260.0 938.6,252.5 939.2,245.0 939.8,252.5 940.3,260.0 941.0,255.8 941.7,251.7 942.5,271.7 943.1,269.8 943.6,266.8 944.2,265.0 945.0,260.0 945.8,255.0 946.4,263.4 947.0,271.7 947.6,275.4 948.3,279.2 948.9,276.3 949.4,274.7 950.0,271.7 950.6,266.2 951.3,260.8 951.9,261.4 952.4,260.3 953.0,260.8 953.6,267.1 954.2,273.3 955.0,279.6 955.8,286.0 956.3,303.3 956.9,299.1 957.5,295.0 958.1,299.4 958.6,303.9 959.2,308.3 960.0,315.0 960.8,321.7 961.4,325.6 961.9,329.4 962.5,333.3 963.1,337.2 963.6,341.1 964.2,345.0 963.7,365.8 964.4,357.9 965.0,350.0 965.6,345.3 966.1,340.5 966.7,335.8 967.4,342.1 968.0,348.3 968.6,355.8 969.2,363.3 969.7,391.7" stroke-width="2.7"/>
</g>
<g stroke="#222" stroke-width="1.2">
<circle cx="434.2" cy="331.6" r="10.8"/>
<line x1="434.1" y1="342.4" x2="434.1" y2="425"/>
<circle cx="969.6" cy="386" r="10.8"/>
<line x1="969.7" y1="396.8" x2="969.7" y2="479.2"/>
</g>
</svg>
<h1 style="margin:0;font-size:inherit;font-weight:inherit">
<span class="t" id="tw0" style="transform:scaleX(1.0575);left:35.00px;top:33.91px;font-family:'Liberation Sans', sans-serif;font-weight:700;font-size:32.00px;letter-spacing:0.000px;color:#1c1c1c">Growth</span>
<span class="t" id="tw1" style="transform:scaleX(1.0834);left:161.00px;top:33.91px;font-family:'Liberation Sans', sans-serif;font-weight:700;font-size:32.00px;letter-spacing:0.000px;color:#1c1c1c">at</span>
<span class="t" id="tw2" style="transform:scaleX(1.0388);left:201.00px;top:33.91px;font-family:'Liberation Sans', sans-serif;font-weight:700;font-size:32.00px;letter-spacing:0.000px;color:#1c1c1c">all</span>
<span class="t" id="tw3" style="transform:scaleX(1.0586);left:246.00px;top:33.91px;font-family:'Liberation Sans', sans-serif;font-weight:700;font-size:32.00px;letter-spacing:0.000px;color:#1c1c1c">costs</span>
<span class="t" id="tw4" style="transform:scaleX(0.9892);left:342.00px;top:33.91px;font-family:'Liberation Sans', sans-serif;font-weight:700;font-size:32.00px;letter-spacing:0.000px;color:#1c1c1c">is</span>
<span class="t" id="tw5" style="transform:scaleX(0.9932);left:376.00px;top:33.91px;font-family:'Liberation Sans', sans-serif;font-weight:700;font-size:32.00px;letter-spacing:0.000px;color:#1c1c1c">no</span>
<span class="t" id="tw6" style="transform:scaleX(1.0237);left:425.00px;top:33.91px;font-family:'Liberation Sans', sans-serif;font-weight:700;font-size:32.00px;letter-spacing:0.000px;color:#1c1c1c">longer</span>
<span class="t" id="tw7" style="transform:scaleX(1.0431);left:535.25px;top:33.91px;font-family:'Liberation Sans', sans-serif;font-weight:700;font-size:32.00px;letter-spacing:0.000px;color:#1c1c1c">being</span>
<span class="t" id="tw8" style="transform:scaleX(1.0834);left:633.25px;top:33.91px;font-family:'Liberation Sans', sans-serif;font-weight:700;font-size:32.00px;letter-spacing:0.000px;color:#1c1c1c">rewarded</span>
</h1>
<div class="t" id="lt" style="transform:scaleX(0.9943);left:34.50px;top:121.15px;font-family:'Liberation Sans', sans-serif;font-weight:400;font-size:14.00px;letter-spacing:0.000px;color:#303030;-webkit-text-stroke:0.25px currentColor">EV / Revenue Multiples</div>
<div class="t" id="rt" style="transform:scaleX(1.0029);left:548.95px;top:121.15px;font-family:'Liberation Sans', sans-serif;font-weight:400;font-size:14.00px;letter-spacing:0.000px;color:#303030;-webkit-text-stroke:0.25px currentColor">EV / Revenue / Growth Multiples</div>
<div class="t" id="ly0" style="left:35.10px;top:168.40px;font-family:'Liberation Sans', sans-serif;font-weight:400;font-size:13.70px;letter-spacing:0.000px;color:#303030;-webkit-text-stroke:0.25px currentColor">12x</div>
<div class="t" id="ly1" style="left:35.10px;top:218.40px;font-family:'Liberation Sans', sans-serif;font-weight:400;font-size:13.70px;letter-spacing:0.000px;color:#303030;-webkit-text-stroke:0.25px currentColor">10x</div>
<div class="t" id="ly2" style="transform:scaleX(1.0150);left:43.10px;top:266.40px;font-family:'Liberation Sans', sans-serif;font-weight:400;font-size:13.70px;letter-spacing:0.000px;color:#303030;-webkit-text-stroke:0.25px currentColor">8x</div>
<div class="t" id="ly3" style="transform:scaleX(1.0150);left:43.10px;top:315.40px;font-family:'Liberation Sans', sans-serif;font-weight:400;font-size:13.70px;letter-spacing:0.000px;color:#303030;-webkit-text-stroke:0.25px currentColor">6x</div>
<div class="t" id="ly4" style="transform:scaleX(1.0150);left:43.10px;top:364.40px;font-family:'Liberation Sans', sans-serif;font-weight:400;font-size:13.70px;letter-spacing:0.000px;color:#303030;-webkit-text-stroke:0.25px currentColor">4x</div>
<div class="t" id="ly5" style="transform:scaleX(1.0150);left:43.10px;top:412.40px;font-family:'Liberation Sans', sans-serif;font-weight:400;font-size:13.70px;letter-spacing:0.000px;color:#303030;-webkit-text-stroke:0.25px currentColor">2x</div>
<div class="t" id="ly6" style="transform:scaleX(1.0150);left:43.10px;top:461.40px;font-family:'Liberation Sans', sans-serif;font-weight:400;font-size:13.70px;letter-spacing:0.000px;color:#303030;-webkit-text-stroke:0.25px currentColor">0x</div>
<div class="t" id="ry0" style="transform:scaleX(1.0761);left:570.35px;top:167.40px;font-family:'Liberation Sans', sans-serif;font-weight:400;font-size:13.70px;letter-spacing:0.000px;color:#303030;-webkit-text-stroke:0.25px currentColor">1.0x</div>
<div class="t" id="ry1" style="transform:scaleX(1.0761);left:570.35px;top:241.40px;font-family:'Liberation Sans', sans-serif;font-weight:400;font-size:13.70px;letter-spacing:0.000px;color:#303030;-webkit-text-stroke:0.25px currentColor">0.8x</div>
<div class="t" id="ry2" style="transform:scaleX(1.0761);left:570.35px;top:315.40px;font-family:'Liberation Sans', sans-serif;font-weight:400;font-size:13.70px;letter-spacing:0.000px;color:#303030;-webkit-text-stroke:0.25px currentColor">0.5x</div>
<div class="t" id="ry3" style="transform:scaleX(1.0761);left:570.35px;top:389.40px;font-family:'Liberation Sans', sans-serif;font-weight:400;font-size:13.70px;letter-spacing:0.000px;color:#303030;-webkit-text-stroke:0.25px currentColor">0.3x</div>
<div class="t" id="ry4" style="transform:scaleX(1.0761);left:570.35px;top:463.40px;font-family:'Liberation Sans', sans-serif;font-weight:400;font-size:13.70px;letter-spacing:0.000px;color:#303030;-webkit-text-stroke:0.25px currentColor">0.0x</div>
<div class="t" id="l10" style="transform:scaleX(0.9264);left:450.05px;top:295.15px;font-family:'Liberation Sans', sans-serif;font-weight:400;font-size:14.00px;letter-spacing:0.000px;color:#303030;-webkit-text-stroke:0.25px currentColor">10 YR</div>
<div class="t" id="lav" style="transform:scaleX(0.8886);left:450.35px;top:311.15px;font-family:'Liberation Sans', sans-serif;font-weight:400;font-size:14.00px;letter-spacing:0.000px;color:#303030;-webkit-text-stroke:0.25px currentColor">AVERAGE</div>
<div class="t" id="l58" style="left:451.00px;top:332.50px;font-family:'Liberation Mono', monospace;font-weight:400;font-size:15.00px;letter-spacing:1.917px;color:#444">5.8x</div>
<div class="t" id="lcu" style="transform:scaleX(0.9288);left:401.50px;top:437.90px;font-family:'Liberation Sans', sans-serif;font-weight:400;font-size:14.00px;letter-spacing:0.000px;color:#303030;-webkit-text-stroke:0.25px currentColor">CURRENT</div>
<div class="t" id="l545" style="left:408.20px;top:460.50px;font-family:'Liberation Mono', monospace;font-weight:400;font-size:15.00px;letter-spacing:1.916px;color:#444">5.45x</div>
<div class="t" id="l6" style="transform:scaleX(1.1200);left:418.00px;top:482.79px;font-family:'Liberation Mono', monospace;font-weight:700;font-size:15.60px;letter-spacing:0.375px;color:#1a1a1a">-6%</div>
<div class="t" id="lba" style="transform:scaleX(1.1400);left:380.05px;top:504.79px;font-family:'Liberation Mono', monospace;font-weight:700;font-size:15.60px;letter-spacing:0.384px;color:#1a1a1a">BELOW AVG.</div>
<div class="t" id="r10" style="transform:scaleX(0.9189);left:983.00px;top:322.15px;font-family:'Liberation Sans', sans-serif;font-weight:400;font-size:14.00px;letter-spacing:0.000px;color:#303030;-webkit-text-stroke:0.25px currentColor">10 YR</div>
<div class="t" id="rav" style="transform:scaleX(0.8864);left:983.00px;top:338.15px;font-family:'Liberation Sans', sans-serif;font-weight:400;font-size:14.00px;letter-spacing:0.000px;color:#303030;-webkit-text-stroke:0.25px currentColor">AVERAGE</div>
<div class="t" id="r04" style="left:983.20px;top:359.50px;font-family:'Liberation Mono', monospace;font-weight:400;font-size:15.00px;letter-spacing:2.218px;color:#444">0.4x</div>
<div class="t" id="rcu" style="transform:scaleX(0.9288);left:936.50px;top:485.90px;font-family:'Liberation Sans', sans-serif;font-weight:400;font-size:14.00px;letter-spacing:0.000px;color:#303030;-webkit-text-stroke:0.25px currentColor">CURRENT</div>
<div class="t" id="r026" style="left:942.30px;top:507.50px;font-family:'Liberation Mono', monospace;font-weight:400;font-size:15.00px;letter-spacing:2.188px;color:#444">0.26x</div>
<div class="t" id="r34" style="transform:scaleX(1.1200);left:946.65px;top:530.79px;font-family:'Liberation Mono', monospace;font-weight:700;font-size:15.60px;letter-spacing:0.466px;color:#1a1a1a">-34%</div>
<div class="t" id="rba" style="transform:scaleX(1.1400);left:915.05px;top:551.79px;font-family:'Liberation Mono', monospace;font-weight:700;font-size:15.60px;letter-spacing:0.384px;color:#1a1a1a">BELOW AVG.</div>
<div class="t" id="foot" style="transform:scaleX(1.0800);left:34.80px;top:585.70px;font-family:'Liberation Mono', monospace;font-weight:700;font-size:9.20px;letter-spacing:0.374px;color:#222">SEQUOIA CONFIDENTIAL</div>
</body></html>
